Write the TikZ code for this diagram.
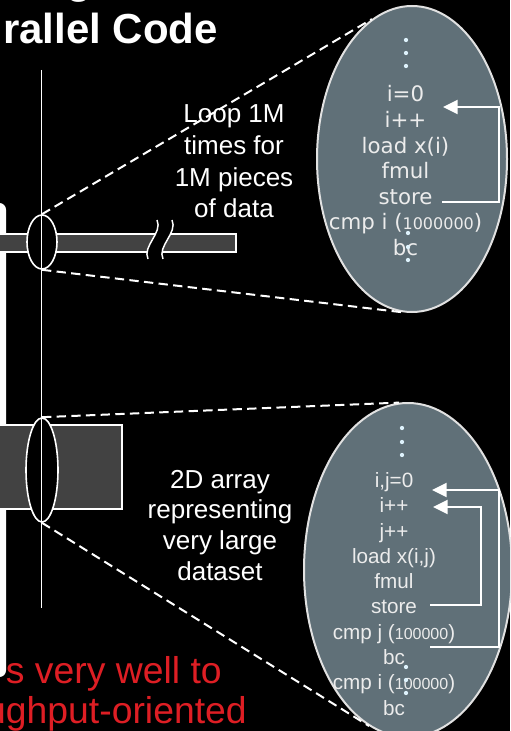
\documentclass[tikz,border=0pt]{standalone}
\usepackage{fontspec}
\setmainfont{Liberation Sans}
\newfontfamily\dejavu{DejaVu Sans}
\usetikzlibrary{shapes.geometric,arrows.meta}
\definecolor{slate}{RGB}{96,112,120}
\definecolor{bargray}{RGB}{66,66,66}
\definecolor{redtxt}{RGB}{222,30,36}
\definecolor{codetxt}{RGB}{236,236,236}
\definecolor{dotc}{RGB}{222,242,252}
\definecolor{rimc}{RGB}{225,225,225}
\begin{document}
\begin{tikzpicture}[x=0.75pt,y=-0.75pt,
 bigell/.style={ellipse, draw=rimc, line width=1.5pt, fill=slate, inner sep=0pt},
 smallell/.style={ellipse, draw=white, line width=1.2pt, fill=black, inner sep=0pt},
 barbox/.style={draw=white, line width=1.1pt, fill=bargray},
 dashline/.style={draw=white, line width=1.5pt, dash pattern=on 7pt off 4pt},
 codeup/.style={text=codetxt, font=\dejavu\fontsize{16}{16}\selectfont, inner sep=0pt, anchor=base},
 codelo/.style={text=codetxt, font=\fontsize{15.5}{15.5}\selectfont, inner sep=0pt, anchor=base},
 lbl/.style={text=white, font=\fontsize{19.5}{19.5}\selectfont, inner sep=0pt, anchor=base},
 loopline/.style={draw=white, line width=1.5pt},
 looparrow/.style={loopline, -{Triangle[length=11pt,width=10.5pt]}},
 dotm/.style={circle, fill=dotc, inner sep=0pt, minimum size=3.2pt},
 redl/.style={text=redtxt, font=\fontsize{28}{28}\selectfont, inner sep=0pt, anchor=base east},
 titl/.style={text=white, font=\bfseries\fontsize{31.5}{31.5}\selectfont, inner sep=0pt, anchor=base west},
 breakline/.style={draw=white, line width=1.1pt}
]
\fill[black] (0,0) rectangle (510,731);
\useasboundingbox (0,0) rectangle (510,731);
\clip (0,0) rectangle (510,731);

% title fragments
\node[titl] (gfrag) at (66,-6) {g};
\node[titl] (title) at (3,44) {rallel Code};

% red text
\node[redl] (r1) at (222,683) {s very well to};
\node[redl] (r2) at (247,723) {ughput-oriented};

% left white bar
\fill[white, rounded corners=5pt] (-20,203) rectangle (6,677);

% 1D bar with break
\path[barbox] (-5,234) rectangle (236,252);
\fill[black] (157,220) .. controls (163,233) and (142,246) .. (148,259) -- (163,259) .. controls (157,246) and (178,233) .. (172,220) -- cycle;
\draw[breakline] (157,220) .. controls (163,233) and (142,246) .. (148,259);
\draw[breakline] (172,220) .. controls (178,233) and (157,246) .. (163,259);

% 2D array block
\path[barbox] (-5,425) rectangle (122,509);

% small ellipses
\node[smallell, minimum width=22.5pt, minimum height=40.5pt] (s1) at (42,242) {};
\node[smallell, minimum width=24pt, minimum height=78pt] (s2) at (42,470) {};

% vertical line
\coordinate (vt) at (41.5,70);
\coordinate (vb) at (41.5,608);
\draw[white, line width=1.1pt] (vt) -- (vb);

% big ellipses
\node[bigell, minimum width=142.5pt, minimum height=229.5pt] (b1) at (412,159) {};
\node[bigell, minimum width=156pt, minimum height=250.5pt] (b2) at (408,570) {};

% dashed zoom lines
\draw[dashline] (s1.north) -- (b1.106);
\draw[dashline] (s1.south) -- (b1.267);
\draw[dashline] (s2.north) -- (b2.93);
\draw[dashline] (s2.south) -- (b2.256);

% labels
\node[lbl] (t1) at (234,123) {Loop 1M};
\node[lbl] (t2) at (234,154.5) {times for};
\node[lbl] (t3) at (234,186) {1M pieces};
\node[lbl] (t4) at (234,217.5) {of data};
\node[lbl] (a1) at (220,488) {2D array};
\node[lbl] (a2) at (220,518.5) {representing};
\node[lbl] (a3) at (220,549) {very large};
\node[lbl] (a4) at (220,580) {dataset};

% upper code
\node[codeup] (u1) at (405.5,102) {i=0};
\node[codeup] (u2) at (405.5,127.5) {i++};
\node[codeup] (u3) at (405.5,153) {load x(i)};
\node[codeup] (u4) at (405.5,178.5) {fmul};
\node[codeup] (u5) at (405.5,204) {store};
\node[codeup] (u6) at (405.5,229.5) {cmp i ({\fontsize{12}{12}\selectfont 1000000})};
\node[codeup] (u7) at (405.5,255) {bc};

% lower code
\node[codelo] (l1) at (394,487) {i,j=0};
\node[codelo] (l2) at (394,512) {i++};
\node[codelo] (l3) at (394,538) {j++};
\node[codelo] (l4) at (394,563) {load x(i,j)};
\node[codelo] (l5) at (394,588) {fmul};
\node[codelo] (l6) at (394,613) {store};
\node[codelo] (l7) at (394,639) {cmp j ({\fontsize{12}{12}\selectfont 100000})};
\node[codelo] (l8) at (394,664) {bc};
\node[codelo] (l9) at (394,689) {cmp i ({\fontsize{12}{12}\selectfont 100000})};
\node[codelo] (l10) at (394,715) {bc};

% dots
\node[dotm] (d1) at (406,40) {};
\node[dotm] (d2) at (406,53) {};
\node[dotm] (d3) at (406,66) {};
\node[dotm] (d4) at (408,233) {};
\node[dotm] (d5) at (408,247) {};
\node[dotm] (d6) at (408,260) {};
\node[dotm] (d7) at (402,428) {};
\node[dotm] (d8) at (402,442) {};
\node[dotm] (d9) at (402,455) {};
\node[dotm] (d10) at (406,667) {};
\node[dotm] (d11) at (406,680) {};
\node[dotm] (d12) at (406,693) {};

% loop arrows
\coordinate (ua0) at (442,202);
\coordinate (ua1) at (499,202);
\coordinate (ua2) at (499,107);
\coordinate (ua3) at (443,107);
\draw[looparrow] (ua0) -- (ua1) -- (ua2) -- (ua3);

\coordinate (oa0) at (430,647);
\coordinate (oa1) at (499,647);
\coordinate (oa2) at (499,490);
\coordinate (oa3) at (432,490);
\draw[looparrow] (oa0) -- (oa1) -- (oa2) -- (oa3);

\coordinate (ia0) at (430,605);
\coordinate (ia1) at (481,605);
\coordinate (ia2) at (481,507);
\coordinate (ia3) at (433,507);
\draw[looparrow] (ia0) -- (ia1) -- (ia2) -- (ia3);
\end{tikzpicture}
\end{document}
